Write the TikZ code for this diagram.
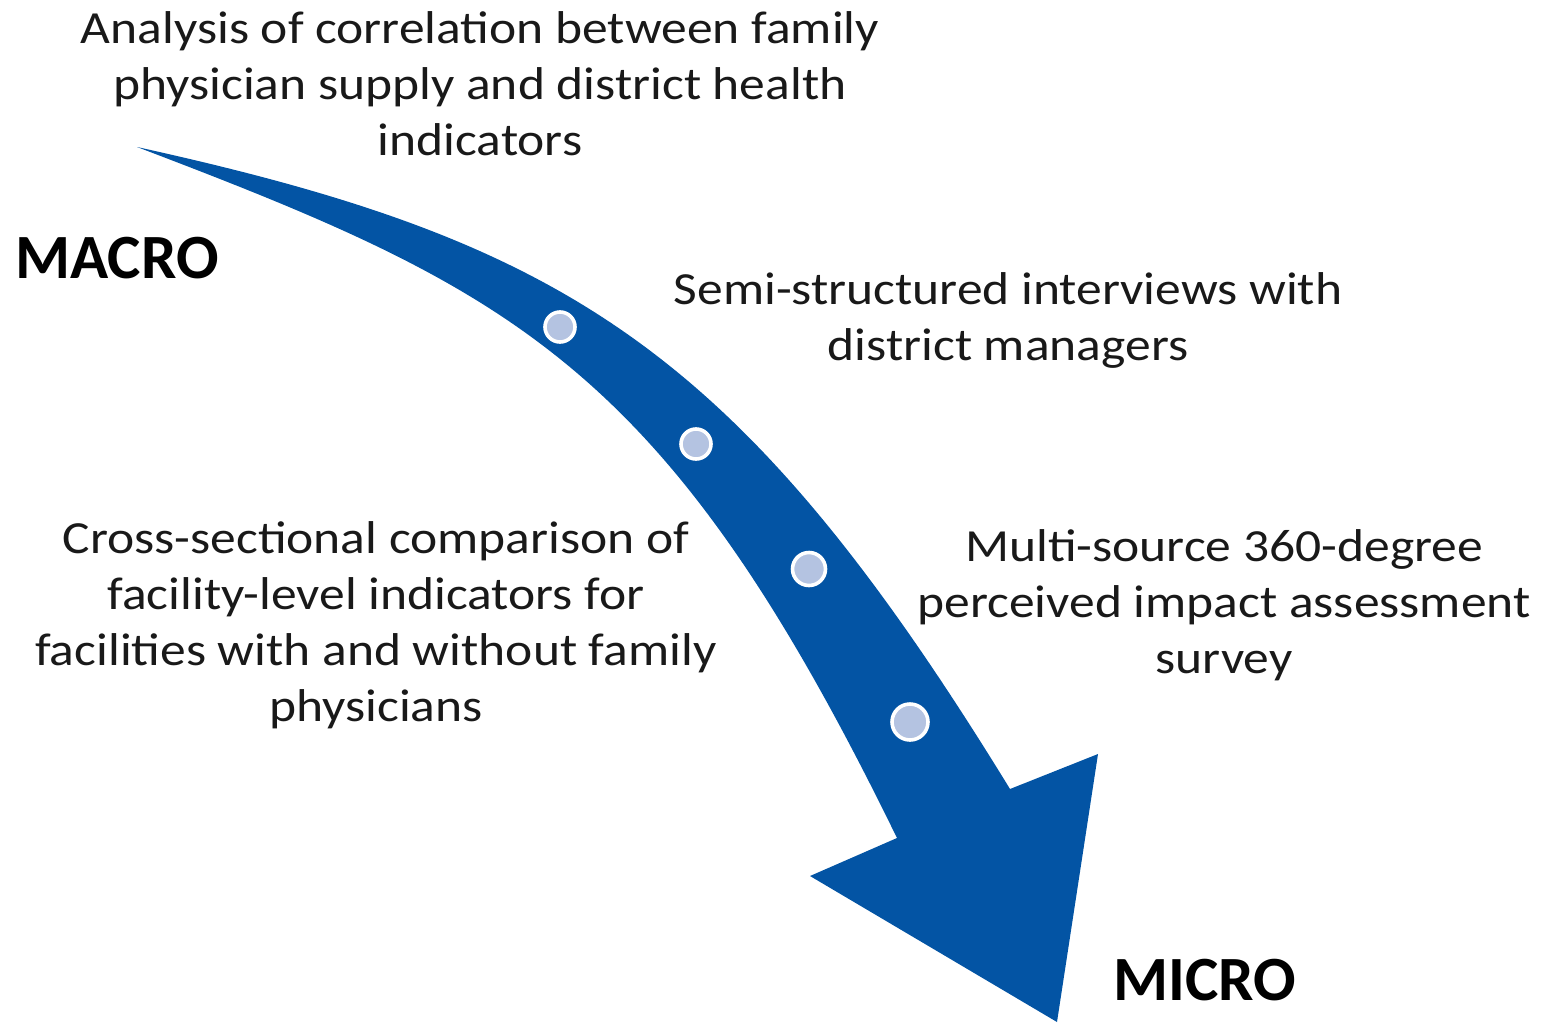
\documentclass[tikz,border=0pt]{standalone}
\usepackage{fontspec}
\setmainfont{Carlito}
\newfontfamily\lblfont[FakeStretch=1.12]{Carlito}
\definecolor{arrowblue}{RGB}{3,84,164}
\definecolor{dotfill}{RGB}{180,195,225}
\begin{document}
\begin{tikzpicture}[x=0.5pt,y=-0.5pt,
  lbl/.style={inner sep=0pt,align=center,font=\lblfont\fontsize{23}{28}\selectfont,text=black!90},
  lvl/.style={inner sep=0pt,anchor=west,font=\fontsize{31.5}{36}\selectfont\bfseries,text=black},
  stepdot/.style={circle,fill=dotfill,draw=white,line width=1.8pt,inner sep=0pt}]
\useasboundingbox (0,0) rectangle (1547,1023);
% curved arrow
\coordinate (tail) at (137,147);
\coordinate (shaftR) at (1010,789);
\coordinate (wingR) at (1098,754);
\coordinate (tip) at (1057,1022);
\coordinate (wingL) at (810,876);
\coordinate (shaftL) at (897,838);
\fill[arrowblue] (tail) .. controls (567,241.6) and (740,349) .. (shaftR)
  -- (wingR) -- (tip) -- (wingL) -- (shaftL)
  .. controls (667,366.5) and (517,291.4) .. (tail) -- cycle;
% dots
\node[stepdot,minimum size=15pt] (d1) at (560,327) {};
\node[stepdot,minimum size=15pt] (d2) at (696,444) {};
\node[stepdot,minimum size=16.5pt] (d3) at (809,569) {};
\node[stepdot,minimum size=18pt] (d4) at (910,722) {};
% labels
\node[lbl] (t1) at (480,84) {Analysis of correlation between family\\physician supply and district health\\indicators};
\node[lbl] (t2) at (1008,320) {Semi-structured interviews with\\district managers};
\node[lbl] (t3) at (376,625) {Cross-sectional comparison of\\facility-level indicators for\\facilities with and without family\\physicians};
\node[lbl] (t4) at (1224,605) {Multi-source 360-degree\\perceived impact assessment\\survey};
\node[lvl] (macro) at (15,258) {MACRO};
\node[lvl] (micro) at (1113,980) {MICRO};
\end{tikzpicture}
\end{document}
